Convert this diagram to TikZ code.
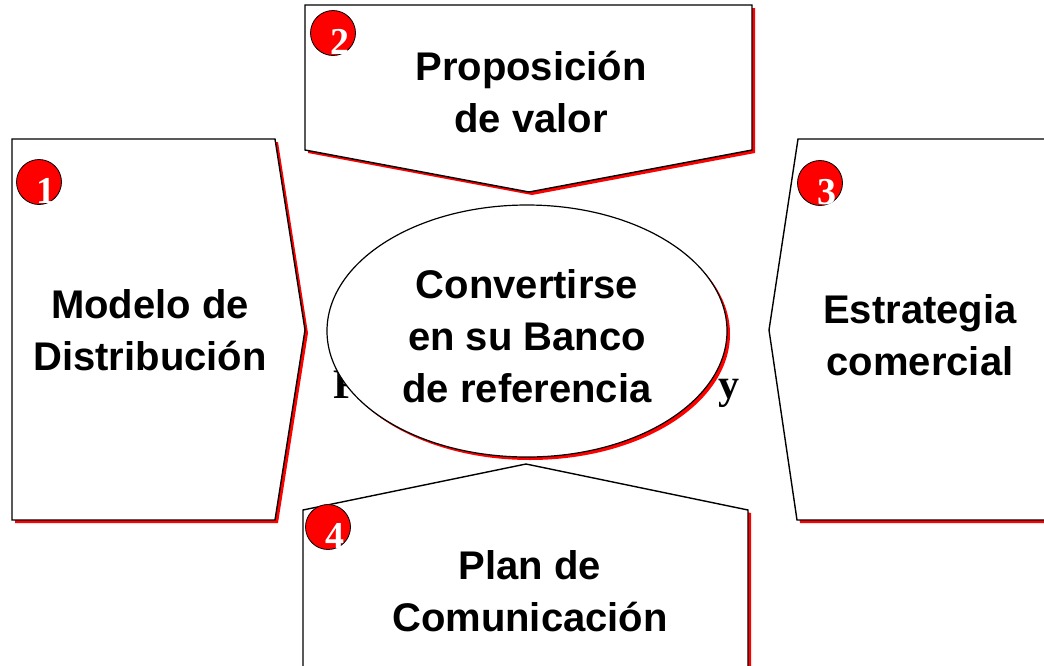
\documentclass[tikz,border=0pt]{standalone}
\usepackage{fontspec}
\setmainfont{Liberation Sans}
\newfontfamily\serifnum{Liberation Serif}
\usetikzlibrary{shapes.geometric, positioning}

\begin{document}
\begin{tikzpicture}[x=0.5pt, y=-0.5pt,
    panel/.style={draw=black, line width=0.7pt, fill=white},
    shade/.style={fill=red, draw=none},
    label/.style={font=\bfseries\fontsize{20}{26}\selectfont, align=center, inner sep=0pt},
    badge/.style={circle, draw=black, line width=0.4pt, fill=red, minimum size=22.5pt, inner sep=0pt},
    digit/.style={font=\serifnum\bfseries\fontsize{19}{19}\selectfont, text=white, inner sep=0pt},
    hub/.style={ellipse, minimum width=200pt, minimum height=126pt, inner sep=0pt}]
    \useasboundingbox (0,0) rectangle (1044,665);
    \clip (0,0) rectangle (1044,665);

    % Left arrow: Modelo de Distribucion
    \fill[shade] (15,142) -- (278,142) -- (308,333) -- (278,523) -- (15,523) -- cycle;
    \draw[panel] (12,139) -- (275,139) -- (305,330) -- (275,520) -- (12,520) -- cycle;

    % Top arrow: Proposicion de valor
    \fill[shade] (308,8) -- (755,8) -- (755,153) -- (532,195) -- (308,153) -- cycle;
    \draw[panel] (305,5) -- (752,5) -- (752,150) -- (529,192) -- (305,150) -- cycle;

    % Right arrow: Estrategia comercial
    \fill[shade] (1050,142) -- (801,142) -- (772,333) -- (800,523) -- (1050,523) -- cycle;
    \draw[panel] (1050,139) -- (798,139) -- (769,330) -- (797,520) -- (1050,520) -- cycle;

    % Bottom arrow: Plan de Comunicacion
    \fill[shade] (306,670) -- (306,513) -- (529,467) -- (751,513) -- (751,670) -- cycle;
    \draw[panel] (303,670) -- (303,510) -- (526,464) -- (748,510) -- (748,670) -- cycle;

    % Text left behind the ellipse
    \node[font=\serifnum\bfseries\fontsize{21}{21}\selectfont, anchor=base west, inner sep=0pt] (hidl) at (333,398) {F};
    \node[font=\serifnum\bfseries\fontsize{21}{21}\selectfont, anchor=base west, inner sep=0pt] (hidr) at (718,398) {y};

    % Central ellipse
    \node[hub, fill=red] (hubshade) at (530,334) {};
    \node[hub, draw=black, line width=0.6pt, fill=white] (hub) at (527,331) {};
    \node[label] (goal) at (527,336) {Convertirse\\en su Banco\\de referencia};

    % Labels
    \node[label] (dist) at (150,330) {Modelo de\\Distribución};
    \node[label] (valor) at (531,92) {Proposición\\de valor};
    \node[label] (comer) at (920,335) {Estrategia\\comercial};
    \node[label] (comun) at (530,591) {Plan de\\Comunicación};

    % Numbered badges
    \node[badge] (b1) at (39,182) {};
    \node[badge] (b2) at (333,33) {};
    \node[badge] (b3) at (820,183) {};
    \node[badge] (b4) at (328,527) {};
    \node[digit] at ([shift={(7,9)}]b1.center) {1};
    \node[digit] at ([shift={(7,9)}]b2.center) {2};
    \node[digit] at ([shift={(7,9)}]b3.center) {3};
    \node[digit] at ([shift={(7,9)}]b4.center) {4};
\end{tikzpicture}
\end{document}
